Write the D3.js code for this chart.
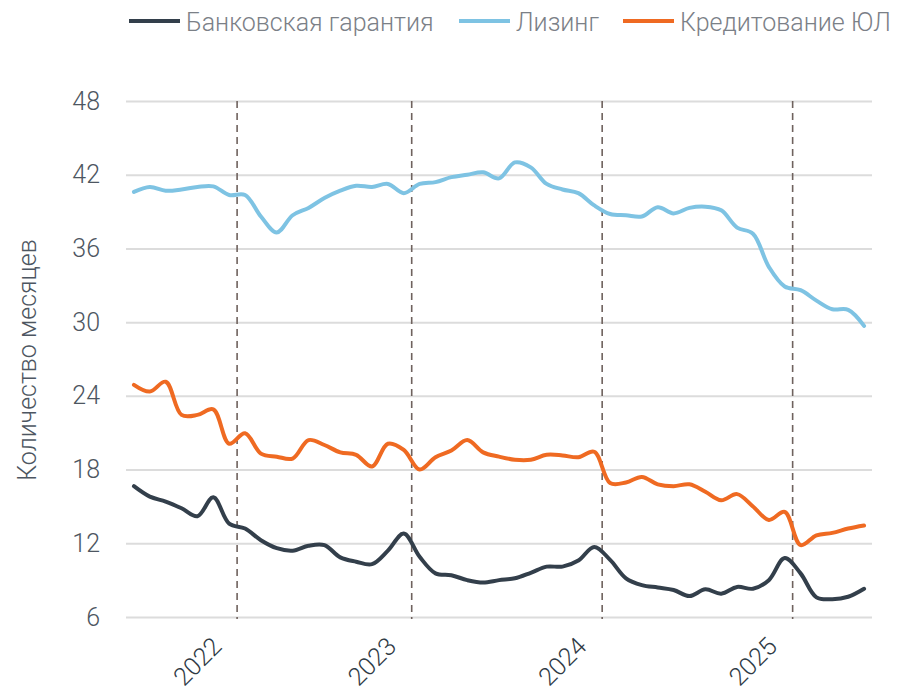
<!DOCTYPE html>
<html>
<head>
<meta charset="utf-8">
<script src="https://cdn.jsdelivr.net/npm/d3@7"></script>
<style>
body { margin: 0; background: #fff; }
text { font-family: Roboto, "Helvetica Neue", Arial, sans-serif; font-weight: 300; }
</style>
</head>
<body>
<svg id="chart" width="898" height="692"></svg>
<script>
// periods (one per month, 2022 has 11 points in the source)
const months = [
    "2021-06", "2021-07", "2021-08", "2021-09", "2021-10", "2021-11", "2021-12",
    "2022-01", "2022-02", "2022-03", "2022-04", "2022-05", "2022-06", "2022-07", "2022-08", "2022-09", "2022-10", "2022-11",
    "2023-01", "2023-02", "2023-03", "2023-04", "2023-05", "2023-06", "2023-07", "2023-08", "2023-09", "2023-10", "2023-11", "2023-12",
    "2024-01", "2024-02", "2024-03", "2024-04", "2024-05", "2024-06", "2024-07", "2024-08", "2024-09", "2024-10", "2024-11", "2024-12",
    "2025-01", "2025-02", "2025-03", "2025-04", "2025-05"
];
const yearStarts = ["2022-01", "2023-01", "2024-01", "2025-01"];
const yearLabels = ["2022", "2023", "2024", "2025"];
const yTicks = [6, 12, 18, 24, 30, 36, 42, 48];

const guarantee = [
    16.65, 15.8, 15.4, 14.85, 14.2, 15.75, 13.6,
    13.2, 12.25, 11.6, 11.4, 11.8, 11.85, 10.85, 10.5, 10.3, 11.4, 12.8,
    10.9, 9.55, 9.4, 9.0, 8.8, 9.0, 9.15, 9.6, 10.1, 10.1, 10.6, 11.7,
    10.65, 9.15, 8.6, 8.4, 8.2, 7.7, 8.25, 7.9, 8.45, 8.3, 9.0, 10.8,
    9.55, 7.6, 7.45, 7.65, 8.3
];
const leasing = [
    40.6, 41.0, 40.7, 40.8, 41.0, 41.05, 40.35,
    40.35, 38.6, 37.3, 38.7, 39.3, 40.1, 40.7, 41.1, 41.0, 41.25, 40.5,
    41.25, 41.4, 41.8, 42.0, 42.2, 41.7, 43.0, 42.6, 41.25, 40.8, 40.5, 39.5,
    38.8, 38.7, 38.6, 39.35, 38.85, 39.3, 39.4, 39.1, 37.7, 37.2, 34.5, 32.9,
    32.6, 31.75, 31.05, 31.0, 29.7
];
const lending = [
    24.9, 24.35, 25.15, 22.45, 22.45, 22.9, 20.1,
    20.95, 19.3, 19.05, 18.9, 20.4, 20.0, 19.4, 19.2, 18.25, 20.1, 19.6,
    18.0, 19.0, 19.55, 20.4, 19.4, 19.05, 18.8, 18.8, 19.2, 19.15, 19.0, 19.45,
    16.9, 16.95, 17.4, 16.8, 16.65, 16.8, 16.2, 15.5, 16.0, 15.0, 13.9, 14.55,
    11.85, 12.65, 12.85, 13.2, 13.45
];
const seriesNames = ["Банковская гарантия", "Лизинг", "Кредитование ЮЛ"];
const seriesColors = ["#333f4b", "#7ec3e3", "#ef6a22"];
const seriesValues = [guarantee, leasing, lending];

const svg = d3.select("#chart");
const plotLeft = 126, plotRight = 872, plotTop = 101, plotBottom = 617;

const x = d3.scaleBand().domain(months).range([plotLeft, plotRight]);
const y = d3.scaleLinear().domain([6, 48]).range([plotBottom, plotTop]);
const cx = d => x(d) + x.bandwidth() / 2;

// y axis + grid
const yAxis = svg.append("g")
    .attr("transform", "translate(" + plotLeft + ",0)")
    .call(d3.axisLeft(y).tickValues(yTicks).tickSize(-(plotRight - plotLeft)).tickPadding(26));
yAxis.select(".domain").remove();
yAxis.selectAll(".tick line").attr("stroke", "#dcdcdc").attr("stroke-width", 2);
yAxis.selectAll(".tick text")
    .attr("fill", "#4d5661")
    .style("font-size", "25px")
    .style("font-family", "Roboto, Arial, sans-serif");

// year separators
svg.append("g").selectAll("line")
    .data(yearStarts)
    .join("line")
    .attr("x1", d => x(d)).attr("x2", d => x(d))
    .attr("y1", plotTop).attr("y2", plotBottom + 2)
    .attr("stroke", "#6f625e")
    .attr("stroke-width", 1.6)
    .attr("stroke-dasharray", "7,5");

svg.append("g").selectAll("text")
    .data(yearStarts)
    .join("text")
    .attr("transform", d => "translate(" + (x(d) - 14) + ",648) rotate(-45)")
    .attr("text-anchor", "end")
    .attr("fill", "#2f3a45")
    .style("font-size", "25px")
    .text((d, i) => yearLabels[i]);

// y title
svg.append("text")
    .attr("transform", "translate(36,360) rotate(-90)")
    .attr("text-anchor", "middle")
    .attr("fill", "#4d5661")
    .style("font-size", "25px")
    .text("Количество месяцев");

// lines
const line = d3.line()
    .x((d, i) => cx(months[i]))
    .y(d => y(d))
    .curve(d3.curveCatmullRom.alpha(0.5));

svg.append("g").selectAll("path")
    .data(seriesValues)
    .join("path")
    .attr("d", line)
    .attr("fill", "none")
    .attr("stroke", (d, i) => seriesColors[i])
    .attr("stroke-width", 4)
    .attr("stroke-linecap", "round")
    .attr("stroke-linejoin", "round");

// legend
const legendX = [129, 459, 623];
const legend = svg.append("g").selectAll("g")
    .data(seriesNames)
    .join("g")
    .attr("transform", (d, i) => "translate(" + legendX[i] + ",0)");
legend.append("line")
    .attr("x1", 0).attr("x2", 51)
    .attr("y1", 21).attr("y2", 21)
    .attr("stroke", (d, i) => seriesColors[i])
    .attr("stroke-width", 4);
legend.append("text")
    .attr("x", 57).attr("y", 31)
    .attr("fill", "#7b8087")
    .style("font-size", "25px")
    .text(d => d);
</script>
</body>
</html>
